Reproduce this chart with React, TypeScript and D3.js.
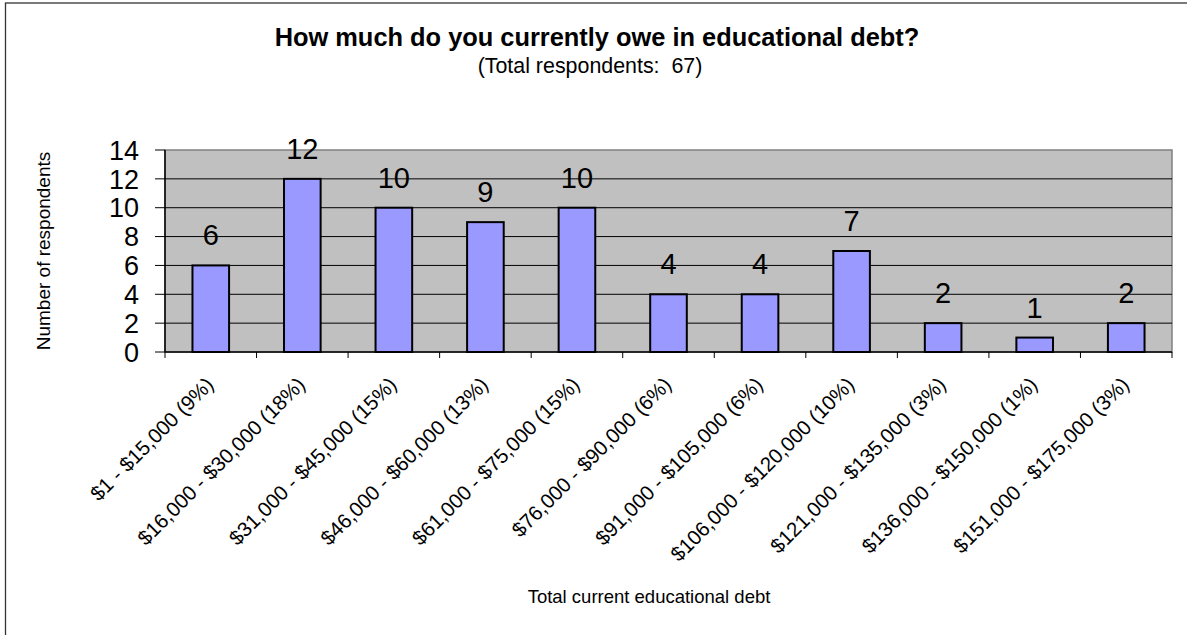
import React from "react";
import * as d3 from "d3";

const categories = [
  "$1 - $15,000 (9%)",
  "$16,000 - $30,000 (18%)",
  "$31,000 - $45,000 (15%)",
  "$46,000 - $60,000 (13%)",
  "$61,000 - $75,000 (15%)",
  "$76,000 - $90,000 (6%)",
  "$91,000 - $105,000 (6%)",
  "$106,000 - $120,000 (10%)",
  "$121,000 - $135,000 (3%)",
  "$136,000 - $150,000 (1%)",
  "$151,000 - $175,000 (3%)",
];
const counts = [6, 12, 10, 9, 10, 4, 4, 7, 2, 1, 2];
const yTicks = [0, 2, 4, 6, 8, 10, 12, 14];

const title = "How much do you currently owe in educational debt?";
const subtitle = "(Total respondents:  67)";
const xTitle = "Total current educational debt";
const yTitle = "Number of respondents";

const W = 1187;
const H = 635;
const plot = { left: 165, right: 1172, top: 150, bottom: 352 };
const font = "'Liberation Sans', Arial, Helvetica, sans-serif";

export default function App() {
  const x = d3
    .scaleBand<string>()
    .domain(categories)
    .range([plot.left, plot.right])
    .paddingInner(0)
    .paddingOuter(0);
  const y = d3.scaleLinear().domain([0, 14]).range([plot.bottom, plot.top]);
  const bw = x.bandwidth() / 2.5;
  const boundaries = d3.range(categories.length + 1).map((i) => plot.left + i * x.step());

  return (
    <svg
      width={W}
      height={H}
      style={{ position: "absolute", left: 0, top: 0, display: "block", background: "#fff" }}
      fontFamily={font}
    >
      <rect x={0} y={0} width={W} height={H} fill="#fff" />
      <rect x={5.5} y={3} width={W + 20} height={H + 20} fill="none" stroke="#333" strokeWidth={1.3} />

      <text x={597} y={46} textAnchor="middle" fontSize={25.4} fontWeight="bold" fill="#000">
        {title}
      </text>
      <text x={590} y={73} textAnchor="middle" fontSize={21.4} fill="#000" style={{ whiteSpace: "pre" }}>
        {subtitle}
      </text>

      {/* plot area */}
      <rect
        x={plot.left}
        y={plot.top}
        width={plot.right - plot.left}
        height={plot.bottom - plot.top}
        fill="#C0C0C0"
        stroke="#808080"
        strokeWidth={1.5}
      />
      {yTicks
        .filter((t) => t > 0 && t < 14)
        .map((t) => (
          <line key={"g" + t} x1={plot.left} x2={plot.right} y1={y(t)} y2={y(t)} stroke="#000" strokeWidth={1} />
        ))}

      {counts.map((v, i) => {
        const cx = (x(categories[i]) as number) + x.bandwidth() / 2;
        return (
          <g key={"b" + i}>
            <rect
              x={cx - bw / 2}
              y={y(v)}
              width={bw}
              height={y(0) - y(v)}
              fill="#9999FF"
              stroke="#000"
              strokeWidth={2}
            />
            <text x={cx} y={y(v) - 20} textAnchor="middle" fontSize={29} fill="#000">
              {v}
            </text>
          </g>
        );
      })}

      {/* axes */}
      <line x1={plot.left} x2={plot.left} y1={plot.top} y2={plot.bottom} stroke="#000" strokeWidth={1.5} />
      <line x1={plot.left} x2={plot.right} y1={plot.bottom} y2={plot.bottom} stroke="#000" strokeWidth={1.5} />
      {yTicks.map((t) => (
        <g key={"yt" + t}>
          <line x1={plot.left - 10} x2={plot.left} y1={y(t)} y2={y(t)} stroke="#000" strokeWidth={1} />
          <text x={139} y={y(t)} dy="0.36em" textAnchor="end" fontSize={27} fill="#000">
            {t}
          </text>
        </g>
      ))}
      {boundaries.map((bx, i) => (
        <line key={"xt" + i} x1={bx} x2={bx} y1={plot.bottom} y2={plot.bottom + 6} stroke="#000" strokeWidth={1} />
      ))}
      {categories.map((c, i) => {
        const cx = (x(c) as number) + x.bandwidth() / 2;
        return (
          <text
            key={"xl" + i}
            transform={`translate(${cx + 4},${plot.bottom + 34}) rotate(-45)`}
            textAnchor="end"
            fontSize={20.5}
            fill="#000"
          >
            {c}
          </text>
        );
      })}

      <text x={649} y={603} textAnchor="middle" fontSize={18.5} fill="#000">
        {xTitle}
      </text>
      <text
        transform={`translate(50,${(plot.top + plot.bottom) / 2}) rotate(-90)`}
        textAnchor="middle"
        fontSize={19}
        fill="#000"
      >
        {yTitle}
      </text>
    </svg>
  );
}
